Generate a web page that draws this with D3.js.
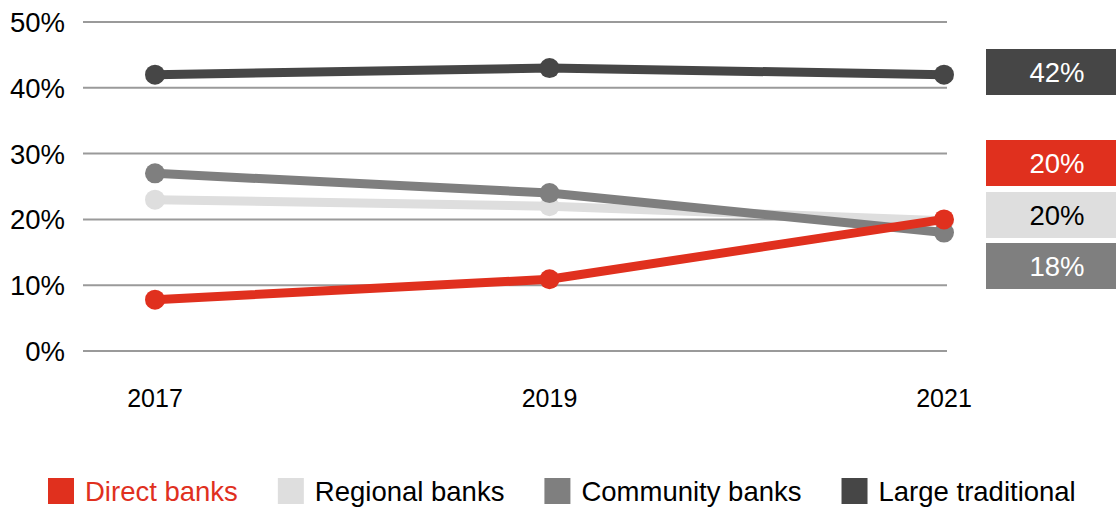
<!DOCTYPE html>
<html>
<head>
<meta charset="utf-8">
<script src="https://cdn.jsdelivr.net/npm/d3@7"></script>
<style>
  body { margin: 0; background: #fff; }
  text { font-family: "Helvetica Neue", Helvetica, Arial, "Liberation Sans", sans-serif; }
</style>
</head>
<body>
<svg id="chart" width="1118" height="508"></svg>
<script>
// data
const years = ["2017", "2019", "2021"];
const regional = [23, 22, 19.8];
const community = [27, 24, 18];
const large_traditional = [42, 43, 42];
const direct = [7.8, 10.9, 20];
const y_ticks = [0, 10, 20, 30, 40, 50];
const end_labels = ["42%", "20%", "20%", "18%"];
const legend_names = ["Direct banks", "Regional banks", "Community banks", "Large traditional"];

const colors = {
    "Direct banks": "#e0301e",
    "Regional banks": "#dedede",
    "Community banks": "#7f7f7f",
    "Large traditional": "#464646"
};

const svg = d3.select("#chart");

const x = d3.scalePoint()
    .domain(years)
    .range([155, 944]);

const y = d3.scaleLinear()
    .domain([0, 50])
    .range([351, 22]);

// grid lines
svg.append("g")
    .selectAll("line")
    .data(y_ticks)
    .enter()
    .append("line")
    .attr("x1", 83)
    .attr("x2", 947)
    .attr("y1", d => y(d))
    .attr("y2", d => y(d))
    .attr("stroke", "#9a9a9a")
    .attr("stroke-width", 2);

// y labels
svg.append("g")
    .selectAll("text")
    .data(y_ticks)
    .enter()
    .append("text")
    .attr("x", 65)
    .attr("y", d => y(d))
    .attr("dy", "0.36em")
    .attr("text-anchor", "end")
    .attr("font-size", 27.5)
    .attr("fill", "#000")
    .text(d => d + "%");

// x labels
svg.append("g")
    .selectAll("text")
    .data(years)
    .enter()
    .append("text")
    .attr("x", d => x(d))
    .attr("y", 398)
    .attr("dy", "0.36em")
    .attr("text-anchor", "middle")
    .attr("font-size", 25)
    .attr("fill", "#000")
    .text(d => d);

const series = [
    { name: "Regional banks", values: regional },
    { name: "Community banks", values: community },
    { name: "Large traditional", values: large_traditional },
    { name: "Direct banks", values: direct }
];

const line = d3.line()
    .x((d, i) => x(years[i]))
    .y(d => y(d));

series.forEach(s => {
    let g = svg.append("g");
    g.append("path")
        .attr("d", line(s.values))
        .attr("fill", "none")
        .attr("stroke", colors[s.name])
        .attr("stroke-width", 9);
    g.selectAll("circle")
        .data(s.values)
        .enter()
        .append("circle")
        .attr("cx", (d, i) => x(years[i]))
        .attr("cy", d => y(d))
        .attr("r", 10)
        .attr("fill", colors[s.name]);
});

// end value boxes
const boxes = [
    { name: "Large traditional", top: 49, text_fill: "#fff" },
    { name: "Direct banks", top: 140, text_fill: "#fff" },
    { name: "Regional banks", top: 192, text_fill: "#000" },
    { name: "Community banks", top: 243, text_fill: "#fff" }
];

let box_group = svg.append("g");
boxes.forEach((b, i) => {
    box_group.append("rect")
        .attr("x", 986)
        .attr("y", b.top)
        .attr("width", 130)
        .attr("height", 46)
        .attr("fill", colors[b.name]);
    box_group.append("text")
        .attr("x", 1057)
        .attr("y", b.top + 23)
        .attr("dy", "0.36em")
        .attr("text-anchor", "middle")
        .attr("font-size", 27.5)
        .attr("fill", b.text_fill)
        .text(end_labels[i]);
});

// legend
let legend = svg.append("g");
let lx = 48;
legend_names.forEach(name => {
    legend.append("rect")
        .attr("x", lx)
        .attr("y", 478)
        .attr("width", 26)
        .attr("height", 26)
        .attr("fill", colors[name]);
    let t = legend.append("text")
        .attr("x", lx + 37)
        .attr("y", 491)
        .attr("dy", "0.36em")
        .attr("font-size", 27.5)
        .attr("fill", name === "Direct banks" ? colors[name] : "#000")
        .text(name);
    let w = t.node().getComputedTextLength();
    lx += 37 + w + 40;
});
</script>
</body>
</html>
